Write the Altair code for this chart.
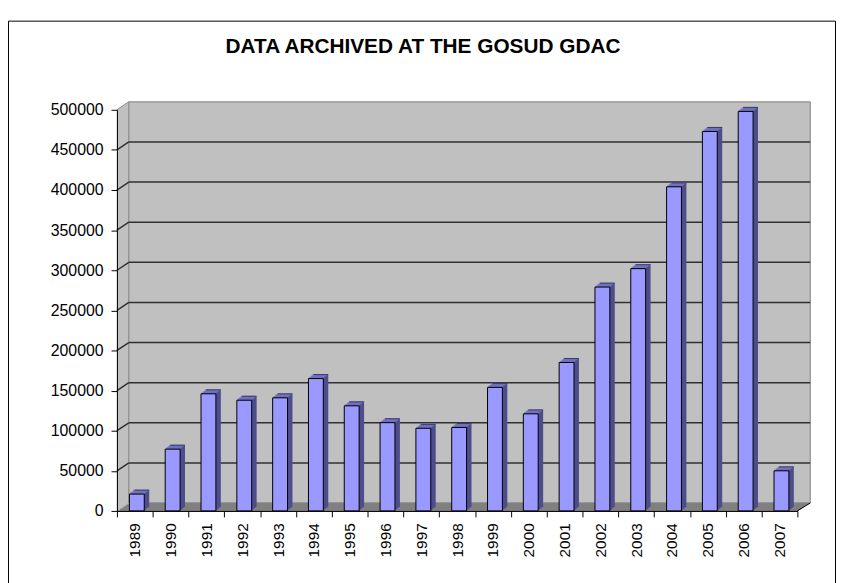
import altair as alt
import pandas as pd

years = ["1989", "1990", "1991", "1992", "1993", "1994", "1995", "1996", "1997", "1998",
         "1999", "2000", "2001", "2002", "2003", "2004", "2005", "2006", "2007"]
values = [21000, 77000, 146000, 138000, 141000, 165000, 131000, 110000, 103000, 104000,
          154000, 121000, 185000, 279000, 302000, 404000, 473000, 498000, 50000]
tick_values = [0, 50000, 100000, 150000, 200000, 250000, 300000, 350000, 400000, 450000, 500000]
title_text = "DATA ARCHIVED AT THE GOSUD GDAC"

W, H = 687, 405
DX, DY = 12, 8          # depth offset of the walls (px)
BDX, BDY = 5, 4         # depth offset of the bars (px)
FONT = "Liberation Sans"

df = pd.DataFrame({"year": years, "value": values})
grid_df = pd.DataFrame({"v": [v for v in tick_values if 0 < v < tick_values[-1]]})
one = pd.DataFrame({"a": [0]})
YMAX = tick_values[-1]

yscale = alt.Scale(domain=[0, YMAX], nice=False)
xscale = alt.Scale(paddingInner=0, paddingOuter=0)
yaxis = alt.Axis(title=None, values=tick_values, format="d", grid=False,
                 tickSize=6, tickColor="black", domainColor="black",
                 labelColor="black", labelFont=FONT, labelFontSize=16,
                 labelPadding=8, zindex=2)
xaxis = alt.Axis(title=None, labelAngle=270, tickBand="extent", tickSize=6,
                 tickColor="black", domainColor="black", labelColor="black",
                 labelFont=FONT, labelFontSize=15.5, labelPadding=6, zindex=2)


def ydat(v):
    return alt.Y(datum=v, type="quantitative", scale=yscale, axis=yaxis)


X = alt.X("year:O", scale=xscale, axis=xaxis)
Y = alt.Y("value:Q", scale=yscale, axis=yaxis)

layers = []

# outer chart-area border
layers.append(
    alt.Chart(one).mark_rect(fillOpacity=0, stroke="black", strokeWidth=1).encode(
        x=alt.value(-109.5), x2=alt.value(W + 38.5), y=alt.value(-89.5), y2=alt.value(H + 100)
    )
)

# left wall (stepped slanted strip)
for k in range(0, DX + 1):
    off = -k * DY / DX
    layers.append(
        alt.Chart(one).mark_rule(color="#C0C0C0", strokeWidth=1.4, xOffset=k + 0.5,
                                 yOffset=off, y2Offset=off).encode(
            x=alt.value(0), y=ydat(YMAX), y2=alt.datum(0),
        )
    )

# back wall
layers.append(
    alt.Chart(one).mark_rect(color="#C0C0C0", stroke="#808080", strokeWidth=1,
                             yOffset=-DY, y2Offset=-DY).encode(
        x=alt.value(DX), x2=alt.value(W + DX + 1), y=ydat(YMAX), y2=alt.datum(0),
    )
)
# top edge of left wall
layers.append(
    alt.Chart(one).mark_rule(color="#808080", strokeWidth=1, y2Offset=-DY).encode(
        x=alt.value(0), x2=alt.value(DX), y=ydat(YMAX), y2=alt.datum(YMAX),
    )
)

# gridlines: slanted part on left wall + horizontal on back wall
layers.append(
    alt.Chart(grid_df).mark_rule(color="#303030", strokeWidth=1.5, y2Offset=-DY).encode(
        x=alt.value(0), x2=alt.value(DX),
        y=alt.Y("v:Q", scale=yscale, axis=yaxis), y2="v:Q",
    )
)
layers.append(
    alt.Chart(grid_df).mark_rule(color="#303030", strokeWidth=1.5, yOffset=-DY).encode(
        x=alt.value(DX), x2=alt.value(W + DX + 1),
        y=alt.Y("v:Q", scale=yscale, axis=yaxis),
    )
)

# floor (stepped slanted strip)
for j in range(0, DY + 1):
    xo = j * DX / DY
    layers.append(
        alt.Chart(one).mark_rule(color="#808080", strokeWidth=1.3, xOffset=xo, x2Offset=xo,
                                 yOffset=-j + 0.5).encode(
            x=alt.value(0), x2=alt.value(W), y=ydat(0),
        )
    )
# right end of the floor edge
layers.append(
    alt.Chart(one).mark_rule(color="black", strokeWidth=1, y2Offset=-DY).encode(
        x=alt.value(W), x2=alt.value(W + DX + 1), y=ydat(0), y2=alt.datum(0),
    )
)

# bar extrusion (side faces)
for k in range(1, BDX + 1):
    off = -k * BDY / BDX
    layers.append(
        alt.Chart(df).mark_bar(size=15, color="#4D4D8C", xOffset=2 + k,
                               yOffset=off, y2Offset=off).encode(x=X, y=Y)
    )
# bar top faces
for k in range(1, BDX + 1):
    off = -k * BDY / BDX
    layers.append(
        alt.Chart(df).mark_tick(size=15, thickness=1.3, color="#7A7ACC", xOffset=2 + k - 0.5,
                                yOffset=off).encode(x=X, y=Y)
    )
# bar top back edge
layers.append(
    alt.Chart(df).mark_tick(size=15, thickness=1, color="#202040", xOffset=2 + BDX,
                            yOffset=-BDY).encode(x=X, y=Y)
)

# front faces
layers.append(
    alt.Chart(df).mark_bar(size=15, color="#9999FF", stroke="black", strokeWidth=1,
                           xOffset=2).encode(x=X, y=Y)
)

# title
layers.append(
    alt.Chart(one).mark_text(text=title_text, font=FONT, fontSize=21, fontWeight="bold",
                             color="black", align="center", baseline="alphabetic").encode(
        x=alt.value(309), y=alt.value(-57),
    )
)

chart = alt.layer(*layers).properties(
    width=W, height=H,
    padding={"left": 110, "top": 100, "right": 39, "bottom": 70},
    autosize=alt.AutoSizeParams(type="none"),
).configure_view(stroke=None).configure(background="white")

chart.save("out.html", embed_options={"renderer": "svg", "actions": False})
